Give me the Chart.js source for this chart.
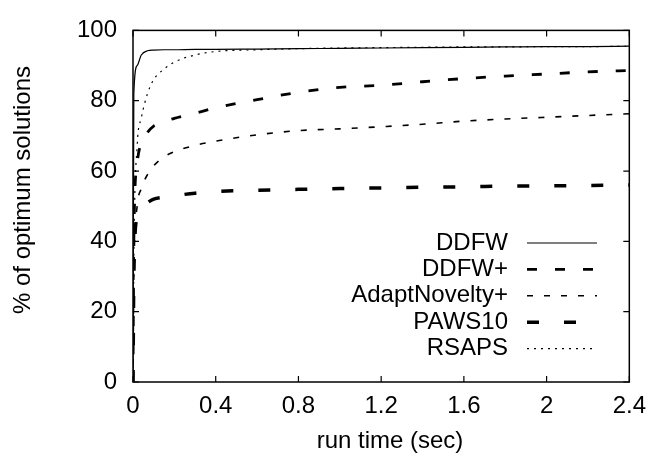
<!DOCTYPE html>
<html>
<head>
<meta charset="utf-8">
<script src="https://cdn.jsdelivr.net/npm/chart.js@4"></script>
<style>
  body { margin: 0; background: #fff; }
  #wrap { width: 656px; height: 466px; }
</style>
</head>
<body>
<div id="wrap"><canvas id="runChart" width="656" height="466"></canvas></div>
<script>
// ====== data ======
const runTimes = [0, 0.004, 0.02, 0.04, 0.07, 0.1, 0.15, 0.2, 0.3, 0.4, 0.6, 0.8, 1.0, 1.2, 1.4, 1.6, 1.8, 2.0, 2.2, 2.4];

const ddfw         = [0, 82, 90, 93, 94.2, 94.4, 94.5, 94.5, 94.6, 94.6, 94.7, 94.8, 94.9, 95.0, 95.1, 95.2, 95.3, 95.4, 95.4, 95.5];
const ddfwPlus     = [0, 40, 62, 68, 71, 72.8, 74, 75, 76.4, 78, 80.3, 82.4, 83.8, 84.4, 85.4, 86.3, 87, 87.6, 88.2, 88.6];
const adaptNovelty = [0, 30, 50, 55, 59, 61.5, 64, 65.5, 67.3, 68.5, 70.3, 71.5, 72, 72.6, 73.3, 74.2, 74.8, 75.3, 75.8, 76.3];
const paws10       = [0, 30, 47, 49.5, 51, 52, 52.6, 53, 53.7, 54.2, 54.5, 54.8, 55, 55.2, 55.4, 55.5, 55.7, 55.8, 55.9, 56];
const rsaps        = [0, 35, 67, 75, 82, 86, 89, 91, 93, 94, 94.5, 94.8, 95, 95.1, 95.2, 95.3, 95.3, 95.4, 95.4, 95.5];

const seriesNames = ['DDFW', 'DDFW+', 'AdaptNovelty+', 'PAWS10', 'RSAPS'];
const xTicks = [0, 0.4, 0.8, 1.2, 1.6, 2, 2.4];
const yTicks = [0, 20, 40, 60, 80, 100];
const xTitle = 'run time (sec)';
const yTitle = '% of optimum solutions';

const FONT = "'Liberation Sans', Arial, Helvetica, sans-serif";

function toPoints(values) {
  return values.map((v, i) => ({ x: runTimes[i], y: v }));
}

const styles = [
  { borderWidth: 1.2, borderDash: [] },
  { borderWidth: 2.8, borderDash: [10, 18] },
  { borderWidth: 1.6, borderDash: [6, 11] },
  { borderWidth: 3.5, borderDash: [12, 25] },
  { borderWidth: 1.2, borderDash: [2, 5] }
];

const allValues = [ddfw, ddfwPlus, adaptNovelty, paws10, rsaps];

const datasets = allValues.map((vals, i) => ({
  label: seriesNames[i],
  data: toPoints(vals),
  borderColor: '#000',
  borderWidth: styles[i].borderWidth,
  borderDash: styles[i].borderDash,
  pointRadius: 0,
  fill: false,
  cubicInterpolationMode: 'monotone'
}));

// ===== frame, inward ticks, titles and legend (gnuplot look) =====
const framePlugin = {
  id: 'frame',
  afterDraw(chart) {
    const { ctx, chartArea: a, scales } = chart;
    ctx.save();
    ctx.strokeStyle = '#000';
    ctx.lineWidth = 1.5;
    ctx.setLineDash([]);
    ctx.strokeRect(a.left, a.top, a.right - a.left, a.bottom - a.top);

    const t = 6;
    ctx.lineWidth = 1.2;
    ctx.beginPath();
    xTicks.forEach(v => {
      const px = scales.x.getPixelForValue(v);
      ctx.moveTo(px, a.bottom); ctx.lineTo(px, a.bottom - t);
      ctx.moveTo(px, a.top); ctx.lineTo(px, a.top + t);
    });
    yTicks.forEach(v => {
      const py = scales.y.getPixelForValue(v);
      ctx.moveTo(a.left, py); ctx.lineTo(a.left + t, py);
      ctx.moveTo(a.right, py); ctx.lineTo(a.right - t, py);
    });
    ctx.stroke();

    ctx.font = '24px ' + FONT;
    ctx.fillStyle = '#000';
    ctx.textBaseline = 'middle';

    // axis titles (gnuplot centres them a bit off the plot centre)
    ctx.textAlign = 'center';
    ctx.fillText(xTitle, 390, 441);
    ctx.save();
    ctx.translate(23, 190);
    ctx.rotate(-Math.PI / 2);
    ctx.fillText(yTitle, 0, 0);
    ctx.restore();

    // legend, text right aligned with the line sample after it
    ctx.textAlign = 'right';
    chart.data.datasets.forEach((ds, i) => {
      const y = 243 + i * 26.4;
      ctx.fillText(ds.label, 508, y);
      ctx.beginPath();
      ctx.lineWidth = ds.borderWidth;
      ctx.setLineDash(ds.borderDash);
      ctx.moveTo(527, y);
      ctx.lineTo(597, y);
      ctx.stroke();
    });
    ctx.restore();
  }
};

new Chart(document.getElementById('runChart').getContext('2d'), {
  type: 'line',
  data: { datasets },
  options: {
    responsive: false,
    animation: false,
    devicePixelRatio: 1,
    layout: { padding: { top: 17, right: 23, left: 0, bottom: 0 } },
    plugins: { legend: { display: false }, tooltip: { enabled: false } },
    scales: {
      x: {
        type: 'linear',
        min: 0,
        max: 2.4,
        afterFit: s => { s.height = 84; },
        afterBuildTicks: s => { s.ticks = xTicks.map(v => ({ value: v })); },
        grid: { display: false, drawTicks: false },
        border: { display: false },
        ticks: {
          padding: 10,
          color: '#000',
          font: { family: FONT, size: 24 },
          callback: v => String(v)
        }
      },
      y: {
        min: 0,
        max: 100,
        afterFit: s => { s.width = 133; },
        afterBuildTicks: s => { s.ticks = yTicks.map(v => ({ value: v })); },
        grid: { display: false, drawTicks: false },
        border: { display: false },
        ticks: {
          padding: 16,
          color: '#000',
          font: { family: FONT, size: 24 }
        }
      }
    }
  },
  plugins: [framePlugin]
});
</script>
</body>
</html>
